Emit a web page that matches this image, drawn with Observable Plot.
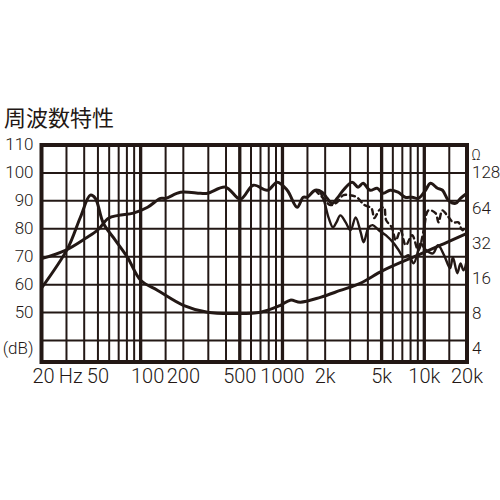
<!DOCTYPE html>
<html><head><meta charset="utf-8">
<script src="https://cdn.jsdelivr.net/npm/d3@7"></script>
<script src="https://cdn.jsdelivr.net/npm/@observablehq/plot@0.6"></script>
<style>
body{margin:0;background:#fff;}
#title{height:130px;box-sizing:border-box;padding:104px 0 0 4px;font:400 22px/24px "Noto Sans CJK JP",sans-serif;color:#231815;}
</style></head><body>
<div id="title">周波数特性</div>
<div id="chart"></div>
<script>
const ink = "#231815";

// On-axis SPL (solid)
const splFreq = [20,29.5,40.9,49.7,59.3,69.7,88.9,112,138,150,191,264,296,397,505,623,783,920,1080,1270,1400,1495,1700,1905,2065,2240,2430,2680,3100,3410,3700,4150,4650,5120,5740,6530,7330,8220,9070,10200,11050,12400,13440,14800,16600,18000,20000];
const splDb   = [69.3,72.3,76.6,79.5,83.8,84.8,85.6,87.7,90.9,90.9,93.1,92.7,92.7,94.9,90.6,95.6,93.8,96.7,93.8,87.7,91.3,91.3,93.8,93.1,90.9,89.1,90.9,93.8,96.7,94.9,96.3,93.8,94.5,92.7,93.8,93.1,91.3,91.3,90.9,93.8,96.3,94.5,93.8,90.2,89.1,90.9,92.7];

// Off-axis SPL (dashed)
const midFreq = [1700,1905,2180,2430,2680,3000,3340,3780,4230,4440,4800,5200,5380,5900,6300,6800,7400,8200,9070,9900,10700,12000,12600,13400,14500,16000,17400,18500,20000];
const midDb   = [93.8,91.3,88.5,89.5,92,92,91.3,88.5,87.4,83.8,86.6,87.7,83.1,80.5,75.9,79.5,74.1,77.7,72.3,79.5,86.6,85.6,82.3,86.6,84.8,82.3,82.3,79.5,81.3];

// Off-axis SPL (lower)
const lowFreq = [1850,1960,2120,2270,2400,2560,2790,3020,3280,3560,3740,4050,4330,4780,5350,6090,6600,7150,7760,8400,9070,9400,10300,11500,12500,13800,15200,15900,17100,18000,18900,20000];
const lowDb   = [93.1,90.2,83.8,80.5,82.3,84.8,82.3,79.5,84.1,78.7,75.2,80.5,81.3,79.5,77.7,74.8,72.3,69.8,70.5,67.6,72.3,74.8,72.3,71.2,74.1,70.5,65.9,69.8,64.1,67.6,65.1,69.4];

// Impedance (ohms)
const impFreq = [20,30.6,37.6,44.2,47.9,54.6,66.4,80.8,100,132,200,296,452,700,967,1136,1337,1850,2557,3533,5137,8939,13695,20000];
const impOhm  = [13.2,28.9,53.4,82.5,77.7,47.4,33.9,24.2,15.4,12.6,9.4,8.2,8.0,8.2,9.4,10.4,10.0,11.0,12.6,14.5,18.7,25.2,31.6,38.9];

// Axes / ticks
const dbTicks = [110,100,90,80,70,60,50];
const dbUnit = "(dB)";
const ohmTicks = [128,64,32,16,8,4];
const ohmUnit = "Ω";
const freqTicks = [20,50,100,200,500,1000,2000,5000,10000,20000];
const freqLabels = ["20\u2009Hz","50","100","200","500","1000","2k","5k","10k","20k"];
const gridDb = [100,90,80,70,60,50,40];
const gridFreqThin = [30,40,50,60,70,80,90,150,200,300,400,600,700,800,900,1500,2000,3000,4000,6000,7000,8000,9000,15000];
const gridFreqThick = [100,500,1000,5000,10000];

// impedance axis mapping onto dB axis (128 Ω ↔ 100 dB, 12.58 dB per octave)
const ohmToDb = o => 100 + 12.58 * Math.log2(o / 128);

const spl = splFreq.map((f,i)=>({f, v: splDb[i]}));
const mid = midFreq.map((f,i)=>({f, v: midDb[i]}));
const low = lowFreq.map((f,i)=>({f, v: lowDb[i]}));
const imp = impFreq.map((f,i)=>({f, v: ohmToDb(impOhm[i])}));
const xt = freqTicks.map((f,i)=>({f, label: freqLabels[i]}));

const labelFont = {fontFamily: "Roboto, 'Liberation Sans', sans-serif", fontWeight: 300, fill: ink};

const chart = Plot.plot({
  width: 500, height: 370,
  marginLeft: 41, marginRight: 33.5, marginTop: 14.5, marginBottom: 138.5,
  x: {type: "log", domain: [20, 20000], axis: null},
  y: {domain: [32.3, 110], axis: null},
  style: {background: "#fff"},
  marks: [
    Plot.ruleY(gridDb, {stroke: ink, strokeWidth: 2}),
    Plot.ruleX(gridFreqThin, {stroke: ink, strokeWidth: 2}),
    Plot.ruleX(gridFreqThick, {stroke: ink, strokeWidth: 3.3}),
    Plot.frame({stroke: ink, strokeWidth: 4}),
    Plot.line(low, {x: "f", y: "v", stroke: ink, strokeWidth: 2.4, curve: "catmull-rom"}),
    Plot.line(mid, {x: "f", y: "v", stroke: ink, strokeWidth: 2.4, strokeDasharray: "5,4", curve: "catmull-rom"}),
    Plot.line(imp, {x: "f", y: "v", stroke: ink, strokeWidth: 3, curve: "catmull-rom"}),
    Plot.line(spl, {x: "f", y: "v", stroke: ink, strokeWidth: 3, curve: "catmull-rom"}),
    // left dB labels
    Plot.text(dbTicks, {y: d => d, text: d => String(d), frameAnchor: "left", textAnchor: "end", dx: -8, fontSize: 17, ...labelFont}),
    Plot.text([37.1], {y: d => d, text: () => dbUnit, frameAnchor: "left", textAnchor: "end", dx: -8, fontSize: 17, ...labelFont}),
    // right ohm labels
    Plot.text(ohmTicks, {y: d => ohmToDb(d), text: d => String(d), frameAnchor: "right", textAnchor: "start", dx: 5, fontSize: 17, ...labelFont}),
    Plot.text([182], {y: d => ohmToDb(d), text: () => ohmUnit, frameAnchor: "right", textAnchor: "middle", dx: 9, fontSize: 14, ...labelFont}),
    // x labels
    Plot.text(xt.filter(d => d.f !== 20 && d.f !== 100), {x: "f", text: "label", frameAnchor: "bottom", dy: 21, fontSize: 20, ...labelFont}),
    Plot.text(xt.filter(d => d.f === 20), {x: "f", text: "label", frameAnchor: "bottom", textAnchor: "start", dx: -9, dy: 21, fontSize: 20, ...labelFont}),
    Plot.text(xt.filter(d => d.f === 100), {x: "f", text: "label", frameAnchor: "bottom", dx: 7, dy: 21, fontSize: 20, ...labelFont})
  ]
});
document.getElementById("chart").appendChild(chart);
</script>
</body></html>
